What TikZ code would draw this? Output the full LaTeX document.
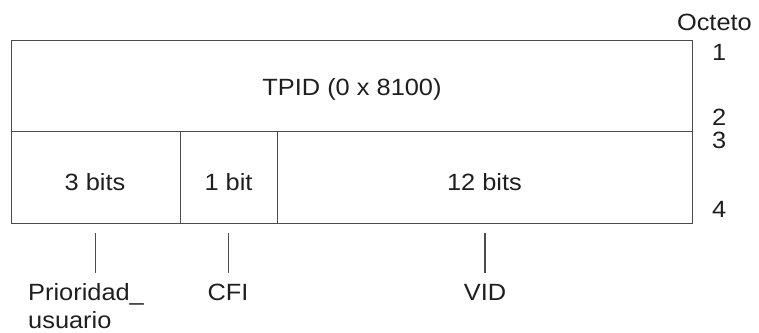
\documentclass[tikz,border=0pt]{standalone}
\usepackage{fontspec}
\setmainfont{Liberation Sans}[FakeStretch=1.08]
\begin{document}
\begin{tikzpicture}[x=1pt,y=-1pt,
  every node/.style={font=\fontsize{23.5}{28}\selectfont, text=black!88},
  field/.style={draw=black!70, line width=1.2pt, inner sep=0pt, anchor=north west},
  tick/.style={draw=black!70, line width=1.1pt},
  lbl/.style={anchor=base, inner sep=0pt},
  num/.style={anchor=base west, inner sep=0pt, text height=16pt, text depth=0pt}]
\useasboundingbox (0,0) rectangle (759,332);
% fields
\node[field, minimum width=681.5pt, minimum height=91pt] (tpid) at (10.5,40) {};
\node[field, minimum width=169.5pt, minimum height=92pt] (pri) at (10.5,131) {};
\node[field, minimum width=97pt, minimum height=92pt] (cfi) at (180,131) {};
\node[field, minimum width=415pt, minimum height=92pt] (vid) at (277,131) {};
% field texts
\node[lbl] (tTPID) at (352,95) {TPID (0 x 8100)};
\node[lbl] (t3) at (95,190) {3 bits};
\node[lbl] (t1) at (228.5,190) {1 bit};
\node[lbl] (t12) at (484.5,190) {12 bits};
% octet column
\node[lbl, anchor=base east] (oct) at (752,30) {Octeto};
\node[num] (o1) at (712,60) {1};
\node[num] (o2) at (712,125) {2};
\node[num] (o3) at (712,148) {3};
\node[num] (o4) at (712,217) {4};
% ticks
\coordinate (a1) at (95.5,233); \coordinate (a2) at (95.5,273);
\coordinate (b1) at (228.5,233); \coordinate (b2) at (228.5,273);
\coordinate (c1) at (485,233); \coordinate (c2) at (485,273);
\draw[tick] (a1) -- (a2);
\draw[tick] (b1) -- (b2);
\draw[tick] (c1) -- (c2);
% labels
\node[lbl, anchor=base west] (lp) at (28,300) {Prioridad\_};
\node[lbl, anchor=base west] (lp2) at (28,328) {usuario};
\node[lbl] (lc) at (228,300) {CFI};
\node[lbl] (lv) at (485,300) {VID};
\end{tikzpicture}
\end{document}
